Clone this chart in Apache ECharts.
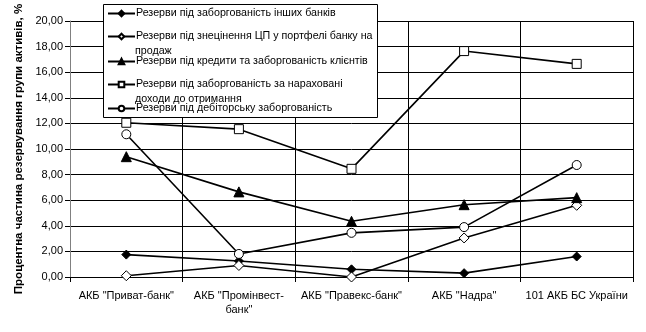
<!DOCTYPE html>
<html><head><meta charset="utf-8">
<script src="https://cdn.jsdelivr.net/npm/echarts@6/dist/echarts.min.js"></script>
<style>html,body{margin:0;padding:0;background:#fff}#c{width:646px;height:332px}</style>
</head><body><div id="c"></div>
<script>
const categories = ['АКБ "Приват-банк"', 'АКБ "Промінвест-\nбанк"', 'АКБ "Правекс-банк"', 'АКБ "Надра"', '101 АКБ БС України'];
const seriesNames = [
  'Резерви під заборгованість інших банків',
  'Резерви під знецінення ЦП у портфелі банку на продаж',
  'Резерви під кредити та заборгованість клієнтів',
  'Резерви під заборгованість за нараховані доходи до отримання',
  'Резерви під дебіторську заборгованість'
];
const legendLabels = [
  'Резерви під заборгованість інших банків',
  'Резерви під знецінення ЦП у портфелі банку на',
  'Резерви під кредити та заборгованість клієнтів',
  'Резерви під заборгованість за нараховані',
  'Резерви під дебіторську заборгованість'
];
const legendContinuations = ['', 'продаж', '', 'доходи до отримання', ''];
const otherBanks = [1.75, 1.25, 0.6, 0.3, 1.6];
const securities = [0.1, 0.9, 0.0, 3.05, 5.6];
const clientLoans = [9.4, 6.65, 4.35, 5.65, 6.2];
const accruedIncome = [12.05, 11.55, 8.45, 17.65, 16.65];
const receivables = [11.15, 1.8, 3.45, 3.9, 8.75];
const yTicks = [0, 2, 4, 6, 8, 10, 12, 14, 16, 18, 20];

const dataSets = [otherBanks, securities, clientLoans, accruedIncome, receivables];
const symbols = ['diamond', 'diamond', 'triangle', 'rect', 'circle'];
const symbolSizes = [9, 10, 10, 9, 9];
const fills = ['#000', '#fff', '#000', '#fff', '#fff'];

const chart = echarts.init(document.getElementById('c'), null, {renderer: 'canvas'});
const font = 'Arial, "Liberation Sans", sans-serif';
const legendTops = [8, 31, 56, 79, 103];

const legends = seriesNames.map((n, i) => ({
  data: [n],
  left: 107, top: legendTops[i], orient: 'vertical',
  itemWidth: 27, itemHeight: 7, itemGap: 2, padding: 0,
  formatter: () => legendLabels[i],
  textStyle: {fontFamily: font, fontSize: 10.7, color: '#000', padding: [0,0,0,-4]},
  selectedMode: false, z: 10
}));

const option = {
  backgroundColor: '#fff',
  animation: false,
  grid: {left: 70, right: 13, top: 21, bottom: 55},
  legend: legends,
  graphic: [
    {type: 'rect', left: 103, top: 4, z: 5,
      shape: {width: 274, height: 113},
      style: {fill: '#fff', stroke: '#000', lineWidth: 1}},
    ...legendContinuations.map((t, i) => t ? {type: 'text', left: 135, top: legendTops[i] + 15, z: 11,
      style: {text: t, font: '10.7px ' + font, fill: '#000'}} : null).filter(Boolean)
  ],
  xAxis: {
    type: 'category', data: categories, boundaryGap: true,
    axisLine: {lineStyle: {color: '#000', width: 1}},
    axisTick: {show: true, alignWithLabel: false, length: 5, lineStyle: {color: '#000'}},
    axisLabel: {fontFamily: font, fontSize: 11, color: '#000', margin: 12, lineHeight: 14, interval: 0},
    splitLine: {show: true, lineStyle: {color: '#000', width: 1}}
  },
  yAxis: {
    type: 'value', min: 0, max: 20, interval: 2,
    name: 'Процентна частина резервування групи активів, %',
    nameLocation: 'middle', nameGap: 44, nameRotate: 90,
    nameTextStyle: {fontFamily: font, fontSize: 11.5, fontWeight: 'bold', color: '#000'},
    axisLine: {show: true, lineStyle: {color: '#808080'}},
    axisTick: {show: true, length: 5, lineStyle: {color: '#000'}},
    axisLabel: {fontFamily: font, fontSize: 11, color: '#000', margin: 7,
      formatter: v => yTicks.includes(v) ? v.toFixed(2).replace('.', ',') : ''},
    splitLine: {show: true, lineStyle: {color: '#000', width: 1}}
  },
  series: seriesNames.map((n, i) => ({
    name: n, type: 'line', data: dataSets[i],
    symbol: symbols[i], symbolSize: symbolSizes[i], showAllSymbol: true,
    lineStyle: {color: '#000', width: 1.6},
    itemStyle: {color: fills[i], borderColor: '#000', borderWidth: 1},
    z: 3
  }))
};
chart.setOption(option);
</script>
</body></html>
